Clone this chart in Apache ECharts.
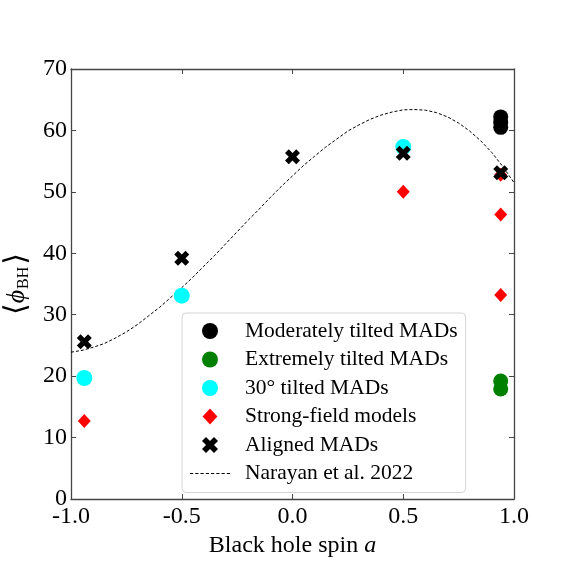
<!DOCTYPE html>
<html><head><meta charset="utf-8">
<script src="https://cdn.jsdelivr.net/npm/echarts@6/dist/echarts.min.js"></script>
<style>html,body{margin:0;padding:0;background:#fff}#c{width:571px;height:571px}</style>
</head><body><div id="c"></div>
<script>
// Data
const moderateA = [0.94, 0.94, 0.94];
const moderatePhi = [62.2, 61.3, 60.5];
const extremeA = [0.94, 0.94];
const extremePhi = [19.2, 17.9];
const tilt30A = [-0.94, -0.5, 0.5];
const tilt30Phi = [19.7, 33.1, 57.3];
const strongA = [-0.94, 0.5, 0.94, 0.94, 0.94];
const strongPhi = [12.7, 50.0, 52.8, 46.3, 33.2];
const alignedA = [-0.94, -0.5, 0.0, 0.5, 0.94];
const alignedPhi = [25.6, 39.2, 55.7, 56.3, 53.1];
const curveA = [-1.0,-0.95,-0.9,-0.85,-0.8,-0.75,-0.7,-0.65,-0.6,-0.55,-0.5,-0.45,-0.4,-0.35,-0.3,-0.25,-0.2,-0.15,-0.1,-0.05,
  0.0,0.05,0.1,0.15,0.2,0.25,0.3,0.35,0.4,0.45,0.5,0.55,0.6,0.65,0.7,0.75,0.8,0.85,0.9,0.95,1.0];
const curvePhi = [23.9,24.2,24.7,25.3,26.2,27.2,28.4,29.8,31.2,32.8,34.4,36.1,37.9,39.7,41.6,43.5,45.4,47.2,49.1,50.9,
  52.6,54.3,55.8,57.3,58.6,59.9,60.9,61.8,62.5,63.0,63.35,63.4,63.3,62.9,62.2,61.2,59.9,58.3,56.4,54.1,51.5];
const xTicks = ['-1.0','-0.5','0.0','0.5','1.0'];
const names = ['Moderately tilted MADs','Extremely tilted MADs','30° tilted MADs','Strong-field models','Aligned MADs','Narayan et al. 2022'];

const pair = (xs, ys) => xs.map((x, i) => [x, ys[i]]);
const FONT = 'Liberation Serif';
const XPATH = 'path://M2.5,0 L5,2.5 L7.5,0 L10,2.5 L7.5,5 L10,7.5 L7.5,10 L5,7.5 L2.5,10 L0,7.5 L2.5,5 L0,2.5 Z';
const DPATH = 'path://M5,0 L10,5.4 L5,10.8 L0,5.4 Z';
const DASHPATH = 'path://M0,0h3v1h-3z M5,0h3v1h-3z M10,0h3v1h-3z M15,0h3v1h-3z M20,0h3v1h-3z M25,0h3v1h-3z M30,0h3v1h-3z M35,0h3v1h-3z';
const axisLine = {show: true, onZero: false, lineStyle: {color: '#444', width: 1.3}};
const tick = {show: true, inside: true, length: 5, lineStyle: {color: '#444'}};

const chart = echarts.init(document.getElementById('c'), null, {renderer: 'canvas'});
chart.setOption({
  animation: false,
  grid: {left: 71, right: 57, top: 69, bottom: 72, containLabel: false, outerBoundsMode: 'none'},
  xAxis: [{
    type: 'value', min: -1, max: 1, interval: 0.5, position: 'bottom',
    axisLine, splitLine: {show: false}, axisTick: tick,
    axisLabel: {fontFamily: FONT, fontSize: 24, color: '#000', margin: 6,
      formatter: v => xTicks[Math.round((v + 1) / 0.5)]},
    name: '{t|Black hole spin }{i|a}', nameLocation: 'middle', nameGap: 35,
    nameTextStyle: {rich: {t: {fontFamily: FONT, fontSize: 24, color: '#000'},
      i: {fontFamily: FONT, fontSize: 24, fontStyle: 'italic', color: '#000'}}}
  }, {
    type: 'value', min: -1, max: 1, interval: 0.5, position: 'top',
    axisLine, splitLine: {show: false}, axisTick: tick, axisLabel: {show: false}
  }],
  yAxis: [{
    type: 'value', min: 0, max: 70, interval: 10, position: 'left',
    axisLine, splitLine: {show: false}, axisTick: tick,
    axisLabel: {fontFamily: FONT, fontSize: 24, color: '#000', margin: 4},
    name: '{b|⟨}{p|ϕ}{s|BH}{b|⟩}', nameLocation: 'middle', nameGap: 17, nameRotate: 90,
    nameTextStyle: {rich: {
      b: {fontFamily: 'DejaVu Serif', fontSize: 30, color: '#000'},
      p: {fontFamily: FONT, fontSize: 26, fontStyle: 'italic', color: '#000'},
      s: {fontFamily: FONT, fontSize: 16, color: '#000', verticalAlign: 'bottom', padding: [10, 2, 0, 1]}}}
  }, {
    type: 'value', min: 0, max: 70, interval: 10, position: 'right',
    axisLine, splitLine: {show: false}, axisTick: tick, axisLabel: {show: false}
  }],
  legend: {
    orient: 'vertical', left: 182, top: 313,
    padding: [7, 8, 8, 8], itemGap: 6.5, itemWidth: 40, itemHeight: 16,
    borderColor: '#d4d4d4', borderWidth: 1, borderRadius: 4,
    backgroundColor: 'rgba(255,255,255,0.8)',
    textStyle: {fontFamily: FONT, fontSize: 21.5, color: '#000', lineHeight: 22, padding: [0, 0, 0, 10]},
    data: [names[0], names[1], names[2], names[3], names[4], {name: names[5], icon: DASHPATH}]
  },
  series: [
    {name: names[5], type: 'line', data: pair(curveA, curvePhi), smooth: false, showSymbol: false, symbol: 'none',
      lineStyle: {color: '#000', width: 1, type: [3, 2]}, itemStyle: {color: '#000'}, z: 1},
    {name: names[0], type: 'scatter', data: pair(moderateA, moderatePhi), symbol: 'circle', symbolSize: 15,
      itemStyle: {color: '#000', opacity: 1}, z: 2},
    {name: names[1], type: 'scatter', data: pair(extremeA, extremePhi), symbol: 'circle', symbolSize: 15,
      itemStyle: {color: '#008000', opacity: 1}, z: 2},
    {name: names[2], type: 'scatter', data: pair(tilt30A, tilt30Phi), symbol: 'circle', symbolSize: 16,
      itemStyle: {color: '#00ffff', opacity: 1}, z: 2},
    {name: names[3], type: 'scatter', data: pair(strongA, strongPhi), symbol: DPATH, symbolSize: 14, symbolKeepAspect: true,
      itemStyle: {color: '#ff0000', opacity: 1}, z: 3},
    {name: names[4], type: 'scatter', data: pair(alignedA, alignedPhi), symbol: XPATH, symbolSize: 15, symbolKeepAspect: true,
      itemStyle: {color: '#000', opacity: 1}, z: 4}
  ]
});
</script></body></html>
